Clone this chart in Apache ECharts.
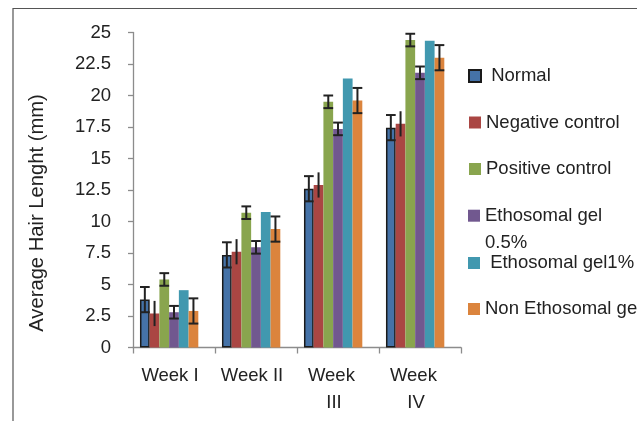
<!DOCTYPE html>
<html><head><meta charset="utf-8">
<script src="https://cdn.jsdelivr.net/npm/echarts@6/dist/echarts.min.js"></script>
<style>html,body{margin:0;padding:0;background:#fff}#c{width:637px;height:430px}</style>
</head><body><div id="c"></div>
<script>
// ---- data ----
const categories = ['Week I', 'Week II', 'Week III', 'Week IV'];
const seriesNames = [' Normal', 'Negative control', 'Positive control', 'Ethosomal gel 0.5%', ' Ethosomal gel1%', 'Non Ethosomal gel'];
const normal      = [3.8, 7.35, 12.6, 17.45];
const negative    = [2.7, 7.6, 12.9, 17.75];
const positive    = [5.4, 10.7, 19.5, 24.4];
const etho05      = [2.8, 7.95, 17.35, 21.8];
const etho1       = [4.55, 10.75, 21.35, 24.35];
const nonEtho     = [2.9, 9.4, 19.6, 23.0];
const normalErr   = [1.0, 1.0, 1.0, 1.0];
const negativeErr = [1.0, 1.0, 1.0, 1.0];
const positiveErr = [0.5, 0.5, 0.5, 0.5];
const etho05Err   = [0.5, 0.5, 0.5, 0.5];
const etho1Err    = null;
const nonEthoErr  = [1.0, 1.0, 1.0, 1.0];
const yTicks = { min: 0, max: 25, interval: 2.5 };

// ---- build ----
const values = [normal, negative, positive, etho05, etho1, nonEtho];
const errs = [normalErr, negativeErr, positiveErr, etho05Err, etho1Err, nonEthoErr];
const colors = ['#4572A7', '#AA4643', '#89A54E', '#71588F', '#4198AF', '#DB843D'];
const GAP = 0.17, SLOTS = 7;

const errData = [];
errs.forEach((e, s) => { if (e) e.forEach((v, w) => errData.push([w, s, values[s][w], v])); });

const series = values.map((d, i) => ({
  type: 'bar', name: seriesNames[i], data: d,
  barGap: 0, barCategoryGap: (GAP * 100) + '%',
  itemStyle: i === 0 ? { color: colors[i], borderColor: '#1a1a1a', borderWidth: 1.5 } : { color: colors[i] }
}));
series.push({ type: 'bar', name: '_empty', data: categories.map(() => null), barGap: 0, barCategoryGap: (GAP * 100) + '%' });
series.push({
  type: 'custom', name: 'err', data: errData, z: 10,
  renderItem(params, api) {
    const w = api.value(0), s = api.value(1), v = api.value(2), e = api.value(3);
    const catW = api.size([1, 0])[0];
    const bw = catW * (1 - GAP) / SLOTS;
    const center = api.coord([w, 0])[0];
    const x = center - SLOTS / 2 * bw + (s + 0.5) * bw;
    const yT = api.coord([w, v + e])[1], yB = api.coord([w, v - e])[1];
    const st = { stroke: '#222', lineWidth: 2 };
    const ch = [{ type: 'line', shape: { x1: x, y1: yT, x2: x, y2: yB }, style: st }];
    if (s !== 1) {
      ch.push({ type: 'line', shape: { x1: x - bw / 2, y1: yT, x2: x + bw / 2, y2: yT }, style: st });
      ch.push({ type: 'line', shape: { x1: x - bw / 2, y1: yB, x2: x + bw / 2, y2: yB }, style: st });
    }
    return { type: 'group', children: ch };
  }
});

const legendBase = {
  orient: 'vertical', left: 468, padding: 0,
  itemWidth: 12, itemHeight: 12, icon: 'rect',
  textStyle: { fontSize: 18.5, color: '#222', lineHeight: 27 }
};
const legends = [
  Object.assign({}, legendBase, { top: 62.5, itemGap: 19.5, data: seriesNames.slice(0, 3) }),
  Object.assign({}, legendBase, { top: 175.2, data: [seriesNames[3]],
    formatter: n => '\n' + n.replace(' 0.5%', '\n0.5%') }),
  Object.assign({}, legendBase, { top: 249.5, itemGap: 19, data: seriesNames.slice(4) })
];

const axisCol = '#8c8c8c';
const chart = echarts.init(document.getElementById('c'), null, { renderer: 'canvas' });
chart.setOption({
  animation: false,
  backgroundColor: '#fff',
  textStyle: { fontFamily: 'Liberation Sans, Arial, sans-serif' },
  graphic: [{
    type: 'polyline', silent: true,
    shape: { points: [[13, 421], [13, 8.5], [640, 8.5]] },
    style: { stroke: '#555', lineWidth: 1.2, fill: null }
  }],
  grid: { left: 133, right: 176, top: 32.5, bottom: 82.5 },
  legend: legends,
  xAxis: {
    type: 'category', data: categories,
    axisLine: { lineStyle: { color: axisCol, width: 1.3 } },
    axisTick: { show: true, length: 6, interval: 0, lineStyle: { color: axisCol, width: 1.3 } },
    axisLabel: {
      interval: 0, fontSize: 18.5, color: '#222', lineHeight: 27, margin: 15, padding: [0, 8, 0, 0],
      width: 65, overflow: 'break'
    }
  },
  yAxis: {
    type: 'value', min: yTicks.min, max: yTicks.max, interval: yTicks.interval,
    axisLine: { show: true, lineStyle: { color: axisCol, width: 1.3 } },
    axisTick: { show: true, length: 5, lineStyle: { color: axisCol, width: 1.3 } },
    splitLine: { show: false },
    axisLabel: { fontSize: 18.5, color: '#222', margin: 22 },
    name: 'Average Hair Lenght (mm)', nameLocation: 'middle', nameGap: 86, nameRotate: 90,
    nameTextStyle: { fontSize: 20.2, color: '#222', padding: [0, 46, 0, 0] }
  },
  series
});
</script></body></html>
